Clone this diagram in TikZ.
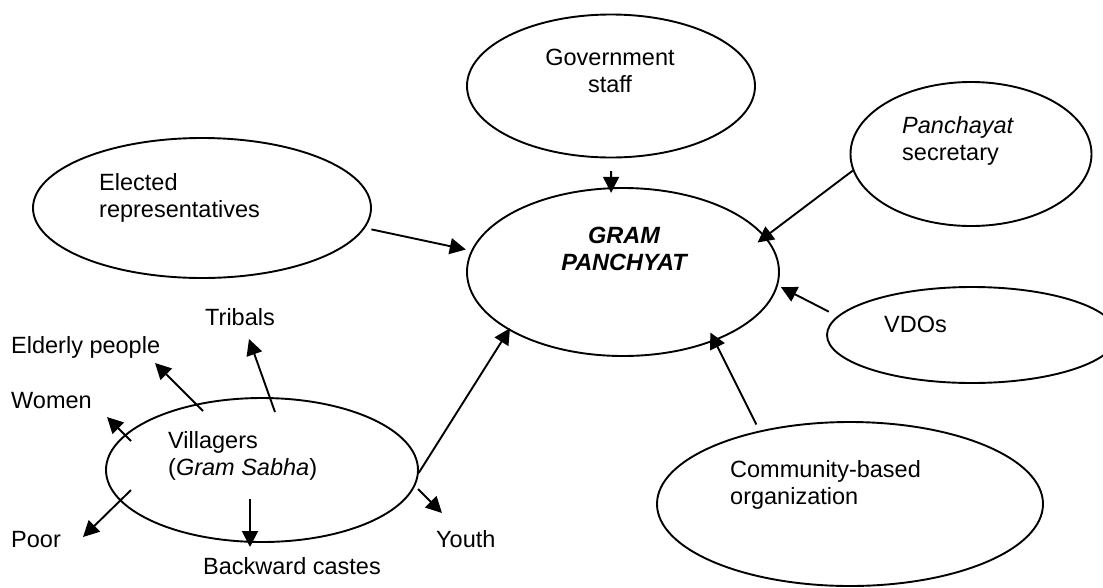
\documentclass[tikz,border=0pt]{standalone}
\usepackage{fontspec}
\setmainfont{Liberation Sans}
\usetikzlibrary{shapes.geometric,arrows.meta}
\begin{document}
\begin{tikzpicture}[x=1pt,y=-1pt,
  oval/.style={draw, ellipse, line width=1.9pt, inner sep=0pt, outer sep=0.95pt},
  txt/.style={inner sep=0pt, font=\fontsize{23.5}{26.8}\selectfont},
  arr/.style={line width=1.9pt, -{Triangle[length=16pt,width=16pt]}}]
\useasboundingbox (0,0) rectangle (1103,587);
\fill[white] (0,0) rectangle (1103,587);
\clip (0,0) rectangle (1103,587);

% ellipses
\node[oval, minimum width=288pt, minimum height=143pt] (gs) at (611,86) {};
\node[oval, minimum width=312pt, minimum height=168pt] (gp) at (623,272) {};
\node[oval, minimum width=338pt, minimum height=140pt] (er) at (202,208) {};
\node[oval, minimum width=241pt, minimum height=144pt] (ps) at (971,154) {};
\node[oval, minimum width=290pt, minimum height=96pt] (vdo) at (972,335) {};
\node[oval, minimum width=386pt, minimum height=164pt] (cbo) at (850,504) {};
\node[oval, minimum width=312pt, minimum height=144pt] (vil) at (262,470) {};

% texts inside ellipses (base = baseline of the last line)
\node[txt, align=center, anchor=base] (gsT) at (610,92) {Government\\staff};
\node[txt, align=center, anchor=base, font=\fontsize{23.5}{26.8}\selectfont\bfseries\itshape] (gpT) at (624,270) {GRAM\\PANCHYAT};
\node[txt, align=left, anchor=base west] (erT) at (99,217) {Elected\\representatives};
\node[txt, align=left, anchor=base west] (psT) at (902,160) {\textit{Panchayat}\\secretary};
\node[txt, anchor=base west] (vdoT) at (884,332) {VDOs};
\node[txt, align=left, anchor=base west] (cboT) at (730,504) {Community-based\\organization};
\node[txt, align=left, anchor=base west] (vilT) at (168,475) {Villagers\\(\textit{Gram Sabha})};

% group labels
\node[txt, anchor=base west] (trib) at (205,325) {Tribals};
\node[txt, anchor=base west] (eld) at (11,353) {Elderly people};
\node[txt, anchor=base west] (wom) at (11,408) {Women};
\node[txt, anchor=base west] (poor) at (11,547) {Poor};
\node[txt, anchor=base west] (back) at (203,574) {Backward castes};
\node[txt, anchor=base west] (youth) at (436,547) {Youth};

% arrows into the Gram Panchyat
\draw[arr, shorten <=12.7pt, shorten >=-5.5pt] (gs.south) -- (gp.98.5);
\draw[arr, shorten <=6.5pt, shorten >=5.4pt] (er.-7.08) -- (gp.172.8);
\draw[arr, shorten >=-10pt] (ps.188.06) -- (gp.14.14);
\draw[arr, shorten <=9.6pt, shorten >=3.2pt] (vdo.172.4) -- (gp.-5.82);
\draw[arr, shorten <=6.9pt, shorten >=-9.5pt] (cbo.141.75) -- (gp.-37.79);
\draw[arr, shorten >=-2.4pt] (vil.-1) -- (gp.207.61);

% arrows out of the villagers
\coordinate (tribS) at (275,412); \coordinate (tribE) at (249,339);
\coordinate (eldS) at (203,411);  \coordinate (eldE) at (155,363);
\coordinate (womS) at (131,441);  \coordinate (womE) at (107,417);
\coordinate (poorS) at (131,490); \coordinate (poorE) at (83,537);
\coordinate (backS) at (250,499); \coordinate (backE) at (250,547);
\coordinate (youS) at (418,489);  \coordinate (youE) at (442,513);
\draw[arr] (tribS) -- (tribE);
\draw[arr] (eldS) -- (eldE);
\draw[arr] (womS) -- (womE);
\draw[arr] (poorS) -- (poorE);
\draw[arr] (backS) -- (backE);
\draw[arr] (youS) -- (youE);
\end{tikzpicture}
\end{document}
